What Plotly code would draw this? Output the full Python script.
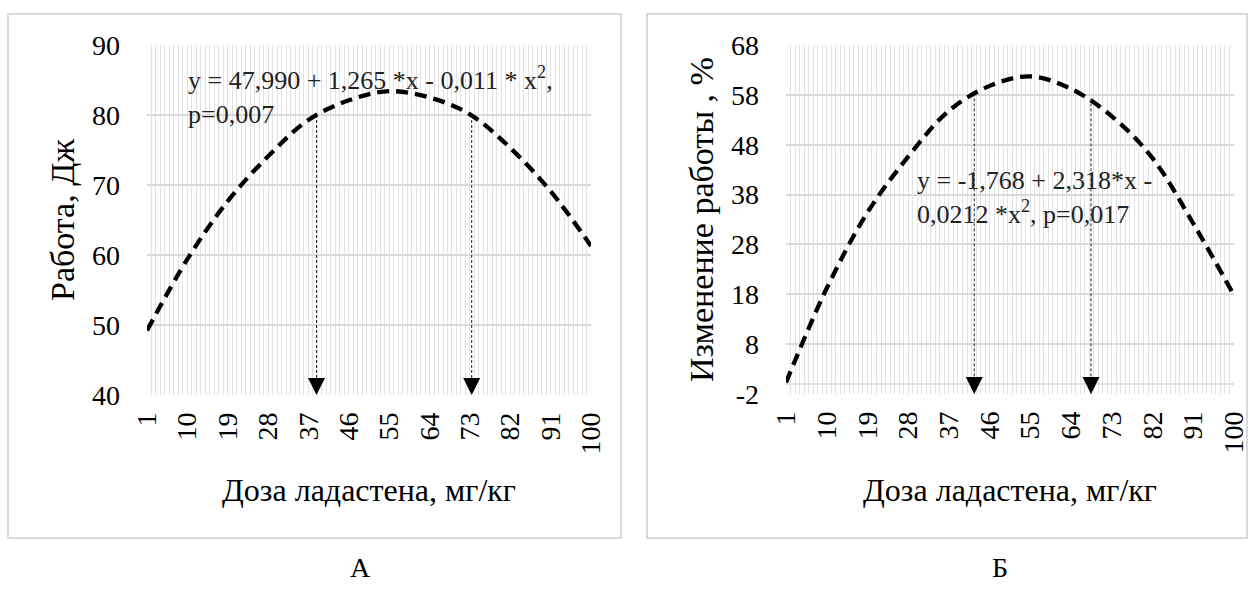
import plotly.graph_objects as go

# ---------------- data ----------------
dose = [1, 10, 19, 28, 37, 46, 55, 64, 73, 82, 91, 100]
work_j = [49.2, 59.4, 67.7, 74.1, 79.3, 82.1, 83.4, 82.5, 80.1, 75.3, 69.1, 61.3]
change_pct = [0.3, 19.2, 34.4, 45.6, 54.8, 59.8, 61.7, 59.2, 53.7, 45.3, 32.2, 17.8]

x_ticks = [1, 10, 19, 28, 37, 46, 55, 64, 73, 82, 91, 100]
y_ticks_a = [40, 50, 60, 70, 80, 90]
y_ticks_b = [-2, 8, 18, 28, 38, 48, 58, 68]

arrow_a_x = [38.8, 73.4]
arrow_a_top = [80.0, 80.0]
arrow_b_x = [42.6, 68.4]
arrow_b_top = [58.3, 57.3]

eq_a = "y = 47,990 + 1,265 *x - 0,011 * x<sup>2</sup>,<br>p=0,007"
eq_b = "y = -1,768 + 2,318*x -<br>0,0212 *x<sup>2</sup>, p=0,017"
x_title = "Доза ладастена, мг/кг"
y_title_a = "Работа, Дж"
y_title_b = "Изменение работы , %"
panel_labels = ["А", "Б"]

# ---------------- layout helpers ----------------
W, H = 1253, 595
FONT = "Liberation Serif, Times New Roman, serif"
GRID = "#d9d9d9"
MINOR = "#e2e2e2"


def px(x):
    return x / W


def py(y):
    return (H - y) / H


fig = go.Figure()

# curves
fig.add_trace(go.Scatter(x=dose, y=work_j, mode="lines", xaxis="x", yaxis="y",
                         line=dict(color="black", width=4.3, dash="12px,7px", shape="spline"),
                         showlegend=False, hoverinfo="skip"))
fig.add_trace(go.Scatter(x=dose, y=change_pct, mode="lines", xaxis="x2", yaxis="y2",
                         line=dict(color="black", width=4.3, dash="12px,7px", shape="spline"),
                         showlegend=False, hoverinfo="skip"))

# drop lines with arrowheads
for xs, tops, bottom, xa, ya in [(arrow_a_x, arrow_a_top, y_ticks_a[0], "x", "y"),
                                  (arrow_b_x, arrow_b_top, y_ticks_b[0], "x2", "y2")]:
    for xv, tv in zip(xs, tops):
        fig.add_trace(go.Scatter(x=[xv, xv], y=[tv, bottom], mode="lines", xaxis=xa, yaxis=ya,
                                 line=dict(color="#222222", width=1, dash="3px,2px"),
                                 showlegend=False, hoverinfo="skip"))
        fig.add_annotation(x=xv, y=bottom, xref=xa, yref=ya, ax=0, ay=-16,
                           showarrow=True, arrowhead=2, arrowsize=3.4, arrowwidth=1,
                           arrowcolor="black", text="")

ax_common = dict(showline=False, zeroline=False, ticks="", automargin=False,
                 tickfont=dict(family=FONT, size=28, color="black"))

fig.update_layout(
    width=W, height=H,
    margin=dict(l=0, r=0, t=0, b=0, pad=0, autoexpand=False),
    paper_bgcolor="white", plot_bgcolor="white", showlegend=False,
    xaxis=dict(domain=[px(147), px(591)], anchor="y", range=[1, 100],
               tickmode="array", tickvals=x_ticks, ticktext=[str(v) for v in x_ticks],
               tickangle=-90, showgrid=True, gridcolor=MINOR, gridwidth=1,
               ticklabelstandoff=11,
               minor=dict(tick0=1, dtick=1, showgrid=True, gridcolor=MINOR, gridwidth=1),
               **ax_common),
    yaxis=dict(domain=[py(395), py(45)], anchor="x", range=[40, 90],
               tickmode="array", tickvals=y_ticks_a, ticktext=[str(v) for v in y_ticks_a],
               showgrid=True, gridcolor=GRID, gridwidth=1.5,
               ticklabelstandoff=26, **ax_common),
    xaxis2=dict(domain=[px(786), px(1234)], anchor="y2", range=[1, 100],
                tickmode="array", tickvals=x_ticks, ticktext=[str(v) for v in x_ticks],
                tickangle=-90, showgrid=True, gridcolor=MINOR, gridwidth=1,
                ticklabelstandoff=11,
                minor=dict(tick0=1, dtick=1, showgrid=True, gridcolor=MINOR, gridwidth=1),
                **ax_common),
    yaxis2=dict(domain=[py(394), py(45)], anchor="x2", range=[-2, 68],
                tickmode="array", tickvals=y_ticks_b, ticktext=[str(v) for v in y_ticks_b],
                showgrid=True, gridcolor=GRID, gridwidth=1.5,
                ticklabelstandoff=26, **ax_common),
)

# horizontal axis line of right panel (crosses at 0)
fig.add_shape(type="line", xref="x2 domain", yref="y2", x0=0, x1=1, y0=0, y1=0,
              line=dict(color=GRID, width=1.5), layer="below")

# panel boxes
for x0, x1 in [(8, 621), (647, 1247)]:
    fig.add_shape(type="rect", xref="paper", yref="paper",
                  x0=px(x0), x1=px(x1), y0=py(538), y1=py(14),
                  line=dict(color=GRID, width=2), fillcolor="rgba(0,0,0,0)", layer="below")

# equations
fig.add_annotation(xref="paper", yref="paper", x=px(186), y=py(60), xanchor="left", yanchor="top",
                   text=eq_a, showarrow=False, align="left",
                   font=dict(family=FONT, size=26, color="#222222"))
fig.add_annotation(xref="paper", yref="paper", x=px(915), y=py(164), xanchor="left", yanchor="top",
                   text=eq_b, showarrow=False, align="left",
                   font=dict(family=FONT, size=26, color="#222222"))

# axis titles
for xc in [369, 1010]:
    fig.add_annotation(xref="paper", yref="paper", x=px(xc), y=py(490), text=x_title,
                       xanchor="center", yanchor="middle", showarrow=False,
                       font=dict(family=FONT, size=32, color="black"))
fig.add_annotation(xref="paper", yref="paper", x=px(62), y=py(220), text=y_title_a, showarrow=False,
                   xanchor="center", yanchor="middle",
                   textangle=-90, font=dict(family=FONT, size=34, color="black"))
fig.add_annotation(xref="paper", yref="paper", x=px(701), y=py(220), text=y_title_b, showarrow=False,
                   xanchor="center", yanchor="middle",
                   textangle=-90, font=dict(family=FONT, size=34, color="black"))

# panel letters
for lbl, xc in zip(panel_labels, [360, 1000]):
    fig.add_annotation(xref="paper", yref="paper", x=px(xc), y=py(567), text=lbl, showarrow=False,
                       xanchor="center", yanchor="middle",
                       font=dict(family=FONT, size=28, color="black"))

fig.write_html("out.html")
